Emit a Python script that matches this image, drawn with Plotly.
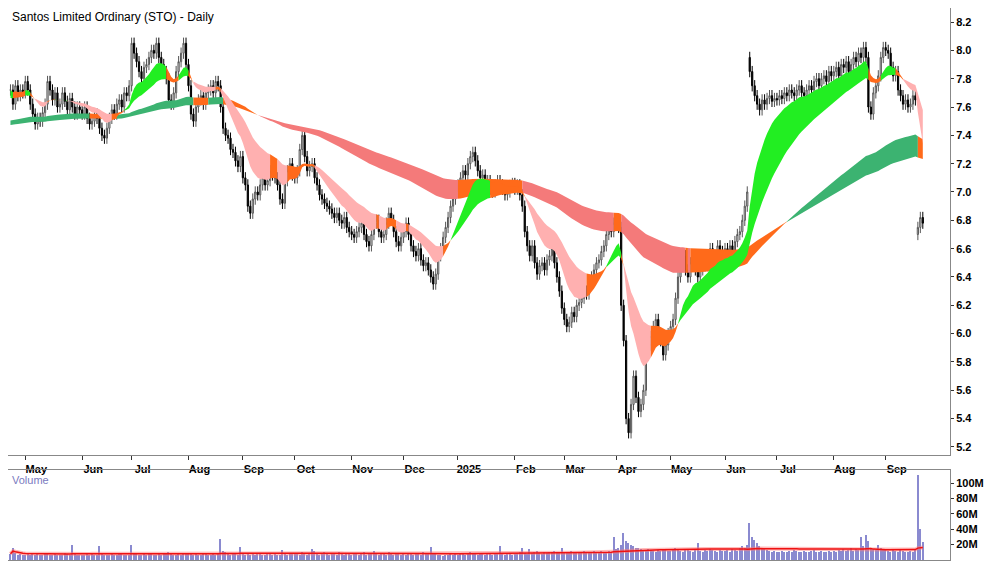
import pandas as pd
import numpy as np
import plotly.graph_objects as go
from plotly.subplots import make_subplots

# daily closes, one list per month
c_apr24 = [7.72,7.62,7.75,7.68,7.72,7.70]
c_may24 = [7.78,7.72,7.62,7.55,7.48,7.52,7.50,7.56,7.62,7.78,7.72,7.65,7.70,7.60,7.62,7.70,7.64,7.58,7.66,7.60,7.55,7.60,7.58]
c_jun24 = [7.55,7.60,7.52,7.48,7.50,7.55,7.52,7.45,7.40,7.38,7.45,7.52,7.58,7.55,7.62,7.65,7.60,7.70,7.68,7.75]
c_jul24 = [8.05,7.98,7.92,7.85,7.80,7.88,7.90,7.95,8.00,7.98,8.05,7.95,7.90,7.85,7.80,7.65,7.62,7.70,7.85,7.92,7.98,8.05,7.90]
c_aug24 = [7.75,7.55,7.50,7.60,7.65,7.68,7.62,7.70,7.72,7.75,7.70,7.78,7.75,7.60,7.45,7.40,7.38,7.30,7.28,7.22,7.18,7.25]
c_sep24 = [7.10,7.05,6.90,6.85,6.95,7.00,6.98,7.05,7.10,7.05,7.08,7.15,7.12,7.10,7.05,6.95,6.92,7.08,7.15,7.20,7.12]
c_oct24 = [7.10,7.15,7.30,7.40,7.25,7.15,7.18,7.20,7.10,7.05,6.98,6.95,6.92,6.90,6.88,6.85,6.82,6.85,6.80,6.78,6.82,6.75,6.72]
c_nov24 = [6.70,6.68,6.72,6.75,6.78,6.70,6.65,6.62,6.70,6.78,6.80,6.72,6.68,6.70,6.78,6.85,6.80,6.72,6.65,6.62,6.68]
c_dec24 = [6.72,6.78,6.70,6.62,6.58,6.55,6.60,6.52,6.48,6.50,6.45,6.40,6.35,6.42,6.55,6.60,6.68,6.75,6.82,6.90,6.95,7.00]
c_jan25 = [7.05,7.10,7.15,7.12,7.20,7.25,7.28,7.22,7.15,7.10,7.12,7.05,7.08,7.02,7.00,7.05,7.08,7.05,7.02,6.98,7.00,7.04,7.06]
c_feb25 = [7.02,7.05,6.98,6.90,6.72,6.62,6.55,6.62,6.50,6.42,6.48,6.50,6.45,6.52,6.55,6.60,6.50,6.40,6.30,6.18]
c_mar25 = [6.10,6.05,6.08,6.15,6.12,6.20,6.22,6.25,6.30,6.28,6.35,6.40,6.45,6.50,6.52,6.58,6.62,6.70,6.75,6.72,6.78]
c_apr25 = [6.80,6.75,6.20,5.95,5.40,5.30,5.50,5.70,5.55,5.45,5.50,5.60,5.85,5.92,5.98,6.05,6.10,6.00,5.95,5.85,5.92,6.00]
c_may25 = [6.05,6.10,6.25,6.40,6.50,6.55,6.45,6.40,6.50,6.55,6.45,6.40,6.45,6.50,6.48,6.55,6.60,6.52,6.55,6.62,6.58,6.55]
c_jun25 = [6.60,6.55,6.62,6.58,6.65,6.70,6.72,6.80,6.90,7.00,7.85,7.75,7.68,7.62,7.58,7.65,7.62,7.66,7.68,7.64,7.66]
c_jul25 = [7.65,7.68,7.66,7.70,7.68,7.72,7.70,7.68,7.72,7.75,7.70,7.68,7.72,7.75,7.72,7.78,7.80,7.75,7.80,7.82,7.78,7.85,7.82]
c_aug25 = [7.85,7.88,7.82,7.90,7.88,7.92,7.85,7.90,7.95,7.92,7.98,7.95,8.02,7.95,7.60,7.55,7.70,7.75,7.82,7.95,8.02]
c_sep25 = [8.00,7.98,7.88,7.82,7.85,7.72,7.68,7.62,7.65,7.60,7.62,7.68,7.65,6.75,6.82,6.78]

# gap days where the open is far from the prior close
gap_opens = {"2025-06-16": 7.95, "2025-09-18": 6.70}

# moving-average levels at the left edge (history before the chart starts)
seed_fast = [7.72, 7.66]
seed_slow = [7.50, 7.47]

# daily volume in millions
v_apr24 = [8,15,9,7,8,6]
v_may24 = [7,8,6,9,7,8,7,6,8,9,7,6,8,7,6,7,9,8,7,20,8,7,6]
v_jun24 = [7,6,8,7,9,6,7,18,8,7,6,7,8,6,7,9,8,7,6,7]
v_jul24 = [20,9,8,7,6,8,7,9,8,7,6,8,7,9,8,10,8,7,6,8,7,9,8]
v_aug24 = [9,8,7,8,6,7,9,8,7,6,8,7,9,27,12,10,8,7,9,8,7,17]
v_sep24 = [8,7,9,6,8,7,9,8,7,6,8,9,7,8,6,7,13,8,7,9,8]
v_oct24 = [8,9,7,10,8,7,9,14,12,8,7,9,10,8,7,9,8,7,10,8,7,9,8]
v_nov24 = [7,8,9,7,8,10,7,8,9,12,8,7,9,8,7,10,8,7,9,8,7]
v_dec24 = [8,7,9,8,7,9,8,7,10,8,9,17,9,8,7,6,5,6,7,8,7,9]
v_jan25 = [7,8,9,7,8,10,9,8,7,9,8,7,9,8,7,9,8,18,8,7,9,8,7]
v_feb25 = [8,9,10,15,9,8,14,9,10,12,9,8,10,9,11,10,12,10,9,15]
v_mar25 = [11,10,9,12,10,11,10,9,12,10,11,10,12,11,10,12,11,10,12,11,30]
v_apr25 = [14,16,20,35,25,22,20,18,16,15,14,13,12,14,13,12,11,13,12,14,13,12]
v_may25 = [12,14,15,13,12,11,13,14,12,11,13,22,12,11,13,12,14,13,12,11,13,12]
v_jun25 = [12,13,11,14,13,12,15,18,16,20,48,30,26,22,18,15,14,13,12,11,12]
v_jul25 = [11,10,12,11,10,12,11,13,12,10,11,12,10,11,12,13,11,10,12,11,10,12,11]
v_aug25 = [12,11,13,12,14,12,13,15,12,14,13,30,18,32,25,16,14,13,20,15,14]
v_sep25 = [13,12,11,14,12,11,13,12,11,10,12,11,14,110,40,23]

closes = (c_apr24 + c_may24 + c_jun24 + c_jul24 + c_aug24 + c_sep24 + c_oct24 + c_nov24 + c_dec24
          + c_jan25 + c_feb25 + c_mar25 + c_apr25 + c_may25 + c_jun25 + c_jul25 + c_aug25 + c_sep25)
volume = (v_apr24 + v_may24 + v_jun24 + v_jul24 + v_aug24 + v_sep24 + v_oct24 + v_nov24 + v_dec24
          + v_jan25 + v_feb25 + v_mar25 + v_apr25 + v_may25 + v_jun25 + v_jul25 + v_aug25 + v_sep25)

n = len(closes)
dates = pd.bdate_range("2024-04-23", periods=n)
df = pd.DataFrame({"close": closes, "vol": volume[:n]}, index=dates)
df["open"] = df["close"].shift(1).fillna(df["close"].iloc[0])
for d, o in gap_opens.items():
    if pd.Timestamp(d) in df.index:
        df.loc[pd.Timestamp(d), "open"] = o
df["high"] = df[["open", "close"]].max(axis=1) + 0.04
df["low"] = df[["open", "close"]].min(axis=1) - 0.04
idx = np.arange(n)


def ema(values, span, seed):
    a = 2.0 / (span + 1)
    out = []
    prev = seed
    for v in values:
        prev = prev + a * (v - prev)
        out.append(prev)
    return np.array(out)


fig = make_subplots(rows=2, cols=1, shared_xaxes=True, row_heights=[0.82, 0.18], vertical_spacing=0.03)

c = df["close"].values
c_smooth = ema(c, 4, c[0])


def ribbon(fast, slow, cols, row):
    up = np.maximum(fast, slow)
    lo = np.minimum(fast, slow)
    colors = []
    for i in range(n):
        if fast[i] > slow[i] and c_smooth[i] >= fast[i]:
            colors.append(cols[0])
        elif fast[i] < slow[i] and c_smooth[i] <= fast[i]:
            colors.append(cols[1])
        else:
            colors.append(cols[2])
    i = 0
    while i < n:
        j = i
        while j + 1 < n and colors[j + 1] == colors[i]:
            j += 1
        k = min(j + 1, n - 1)
        xs = list(idx[i:k + 1]) + list(idx[i:k + 1][::-1])
        ys = list(up[i:k + 1]) + list(lo[i:k + 1][::-1])
        fig.add_trace(go.Scatter(x=xs, y=ys, fill="toself", fillcolor=colors[i], mode="lines",
                                 line=dict(width=0), hoverinfo="skip", showlegend=False), row=row, col=1)
        i = j + 1


ribbon(ema(c, 110, seed_slow[0]), ema(c, 170, seed_slow[1]), ("#3cb371", "#f47a7a", "#ff6a1a"), 1)
ribbon(ema(c, 12, seed_fast[0]), ema(c, 30, seed_fast[1]), ("#22ee22", "#ffb0b0", "#ff6a1a"), 1)

fig.add_trace(go.Candlestick(x=idx, open=df["open"], high=df["high"], low=df["low"], close=df["close"],
                             increasing=dict(line=dict(color="#555555", width=1), fillcolor="white"),
                             decreasing=dict(line=dict(color="black", width=1), fillcolor="black"),
                             whiskerwidth=0, showlegend=False), row=1, col=1)

fig.add_trace(go.Bar(x=idx, y=df["vol"], marker=dict(color="#8a8ad0", line=dict(width=0)),
                     width=0.6, showlegend=False), row=2, col=1)
vma = df["vol"].rolling(50, min_periods=1).mean()
fig.add_trace(go.Scatter(x=idx, y=vma, mode="lines", line=dict(color="rgba(255,120,120,0.5)", width=4),
                         showlegend=False), row=2, col=1)
fig.add_trace(go.Scatter(x=idx, y=vma, mode="lines", line=dict(color="#ee1111", width=1.5),
                         showlegend=False), row=2, col=1)

# month ticks at first trading day of each month
month_start = [i for i in range(1, n) if dates[i].month != dates[i - 1].month]
month_text = ["2025" if (dates[i].month == 1) else dates[i].strftime("%b") for i in month_start]

fnt = dict(family="Arial", size=11, color="black")
fig.update_xaxes(range=[-1, n + 10], showgrid=False, zeroline=False, rangeslider_visible=False,
                 showline=True, linecolor="#888888", mirror=True)
fig.update_xaxes(tickvals=month_start, ticktext=["<b>%s</b>" % t for t in month_text], ticks="outside",
                 ticklen=4, tickcolor="#333333", ticklabelshift=11, ticklabelstandoff=0, tickfont=fnt,
                 showticklabels=True, row=1, col=1)
fig.update_xaxes(showticklabels=False, ticks="", row=2, col=1)
fig.update_yaxes(side="right", showgrid=False, zeroline=False, showline=True, linecolor="#888888", mirror=True,
                 ticks="outside", ticklen=3, tickcolor="#333333", tickfont=fnt)
fig.update_yaxes(range=[5.144, 8.299], tickvals=[5.2 + 0.2 * k for k in range(16)],
                 ticktext=["<b>%.1f</b>" % (5.2 + 0.2 * k) for k in range(16)], row=1, col=1)
fig.update_yaxes(range=[0, 117], tickvals=[20, 40, 60, 80, 100],
                 ticktext=["<b>%dM</b>" % v for v in [20, 40, 60, 80, 100]], row=2, col=1)
fig.update_layout(
    width=1000, height=562, margin=dict(l=0, r=58, t=0, b=2),
    plot_bgcolor="white", paper_bgcolor="white", bargap=0,
    font=dict(family="Arial", size=11, color="black"),
)
fig.layout.yaxis.domain = [0.202, 1.0]
fig.layout.yaxis2.domain = [0.0143, 0.175]
fig.add_annotation(text="Santos Limited Ordinary (STO) - Daily", xref="paper", yref="paper", x=0.002, y=1.0,
                   xanchor="left", yanchor="top", showarrow=False, font=dict(family="Arial", size=12, color="black"))
fig.add_annotation(text="Volume", xref="paper", yref="paper", x=0.002, y=0.172, xanchor="left", yanchor="top",
                   showarrow=False, font=dict(family="Arial", size=11, color="#7a7ac0"))
fig.write_html("out.html")
